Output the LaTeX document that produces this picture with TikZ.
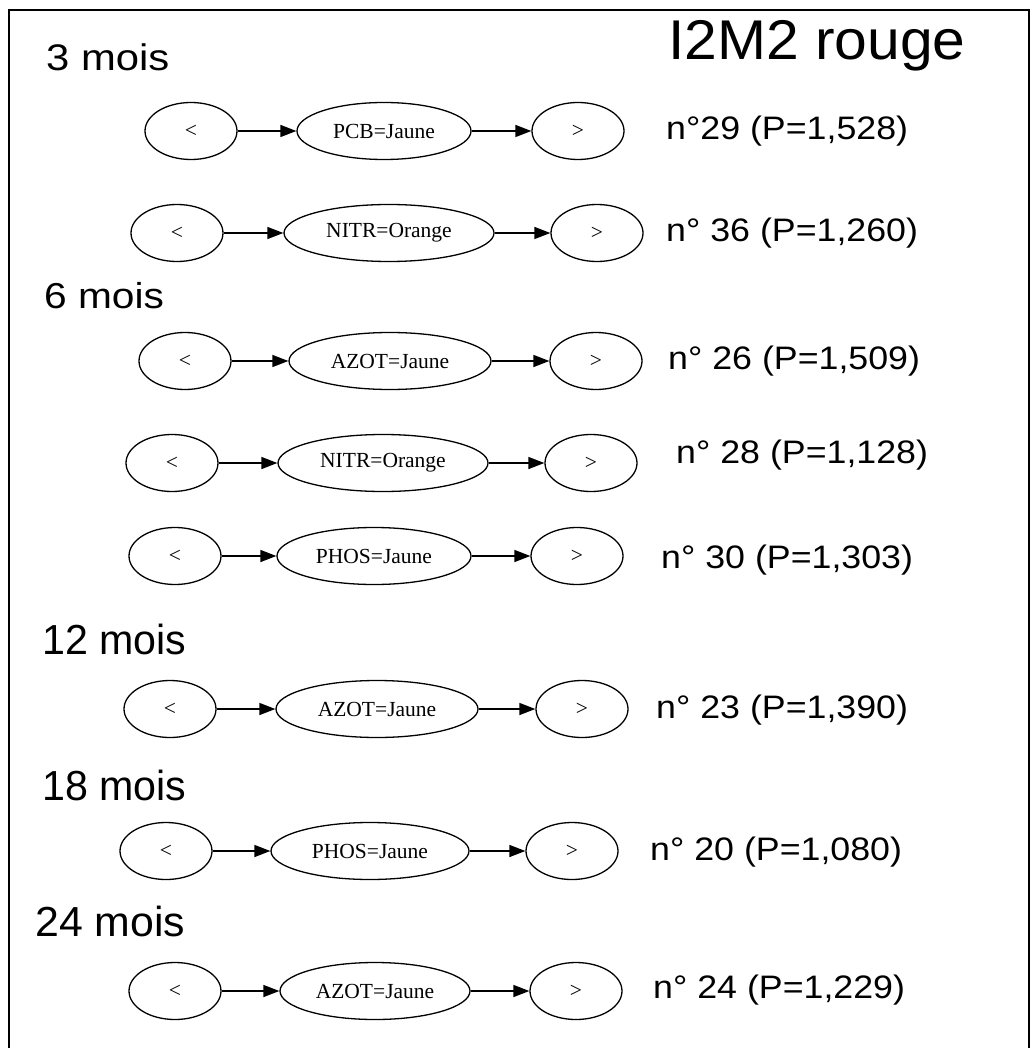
\documentclass[tikz,border=0pt]{standalone}
\usepackage{fontspec}
\setmainfont{Liberation Sans}
\newfontfamily\gvfont{Liberation Serif}
\usetikzlibrary{arrows.meta,shapes.geometric}
\tikzset{
  gv/.style={ellipse,draw,line width=1.3pt,inner sep=0pt,minimum height=57pt,
    font=\gvfont\fontsize{21.5}{24}\selectfont},
  endnode/.style={gv,minimum width=92pt},
  edge/.style={line width=1.4pt,-{Triangle[length=16pt,width=12pt]}},
  sanstext/.style 2 args={anchor=west,inner sep=0pt,xscale=#2,
    font=\fontsize{#1}{#1}\selectfont},
  info/.style={sanstext={32.5}{1.1}}
}
\begin{document}
\begin{tikzpicture}[x=1pt,y=-1pt]
\useasboundingbox (0,0) rectangle (1031,1048);
\draw[line width=1.6pt] (9,1060) -- (9,10) -- (1029,10) -- (1029,1060);
\node[sanstext={56}{1.05}] (title) at (668,46) {I2M2 rouge};
\node[sanstext={37}{1.13}] (m3) at (46,57) {3 mois};
\node[sanstext={36}{1.13}] (m6) at (44,296) {6 mois};
\node[sanstext={42}{0.98}] (m12) at (42,639) {12 mois};
\node[sanstext={42}{0.98}] (m18) at (42,785) {18 mois};
\node[sanstext={42}{1.02}] (m24) at (35,921) {24 mois};
% rows: y, left x, mid x, mid width, right x, label, info x, info y, info
\foreach \i/\y/\lx/\mx/\mw/\rx/\lab/\ix/\iy/\inf in {
  1/131/191/384/174/578/{PCB=Jaune}/666/131/{n°29 (P=1,528)},
  2/233/177/389/210/597/{NITR=Orange}/666/233/{n° 36 (P=1,260)},
  3/361/185/390/202/596/{AZOT=Jaune}/668/361/{n° 26 (P=1,509)},
  4/463/172/383/210/591/{NITR=Orange}/676/455/{n° 28 (P=1,128)},
  5/556/175/374/194/577/{PHOS=Jaune}/661/560/{n° 30 (P=1,303)},
  6/709/170/377/202/582/{AZOT=Jaune}/656/710/{n° 23 (P=1,390)},
  7/851/166/370/198/572/{PHOS=Jaune}/650/852/{n° 20 (P=1,080)},
  8/991/175/375/190/576/{AZOT=Jaune}/653/990/{n° 24 (P=1,229)}}{
  \node[endnode] (l\i) at (\lx,\y) {<};
  \node[gv,minimum width=\mw pt] (c\i) at (\mx,\y) {\lab};
  \node[endnode] (r\i) at (\rx,\y) {>};
  \draw[edge] (l\i) -- (c\i);
  \draw[edge] (c\i) -- (r\i);
  \node[info] (n\i) at (\ix,\iy) {\inf};
}
\end{tikzpicture}
\end{document}
